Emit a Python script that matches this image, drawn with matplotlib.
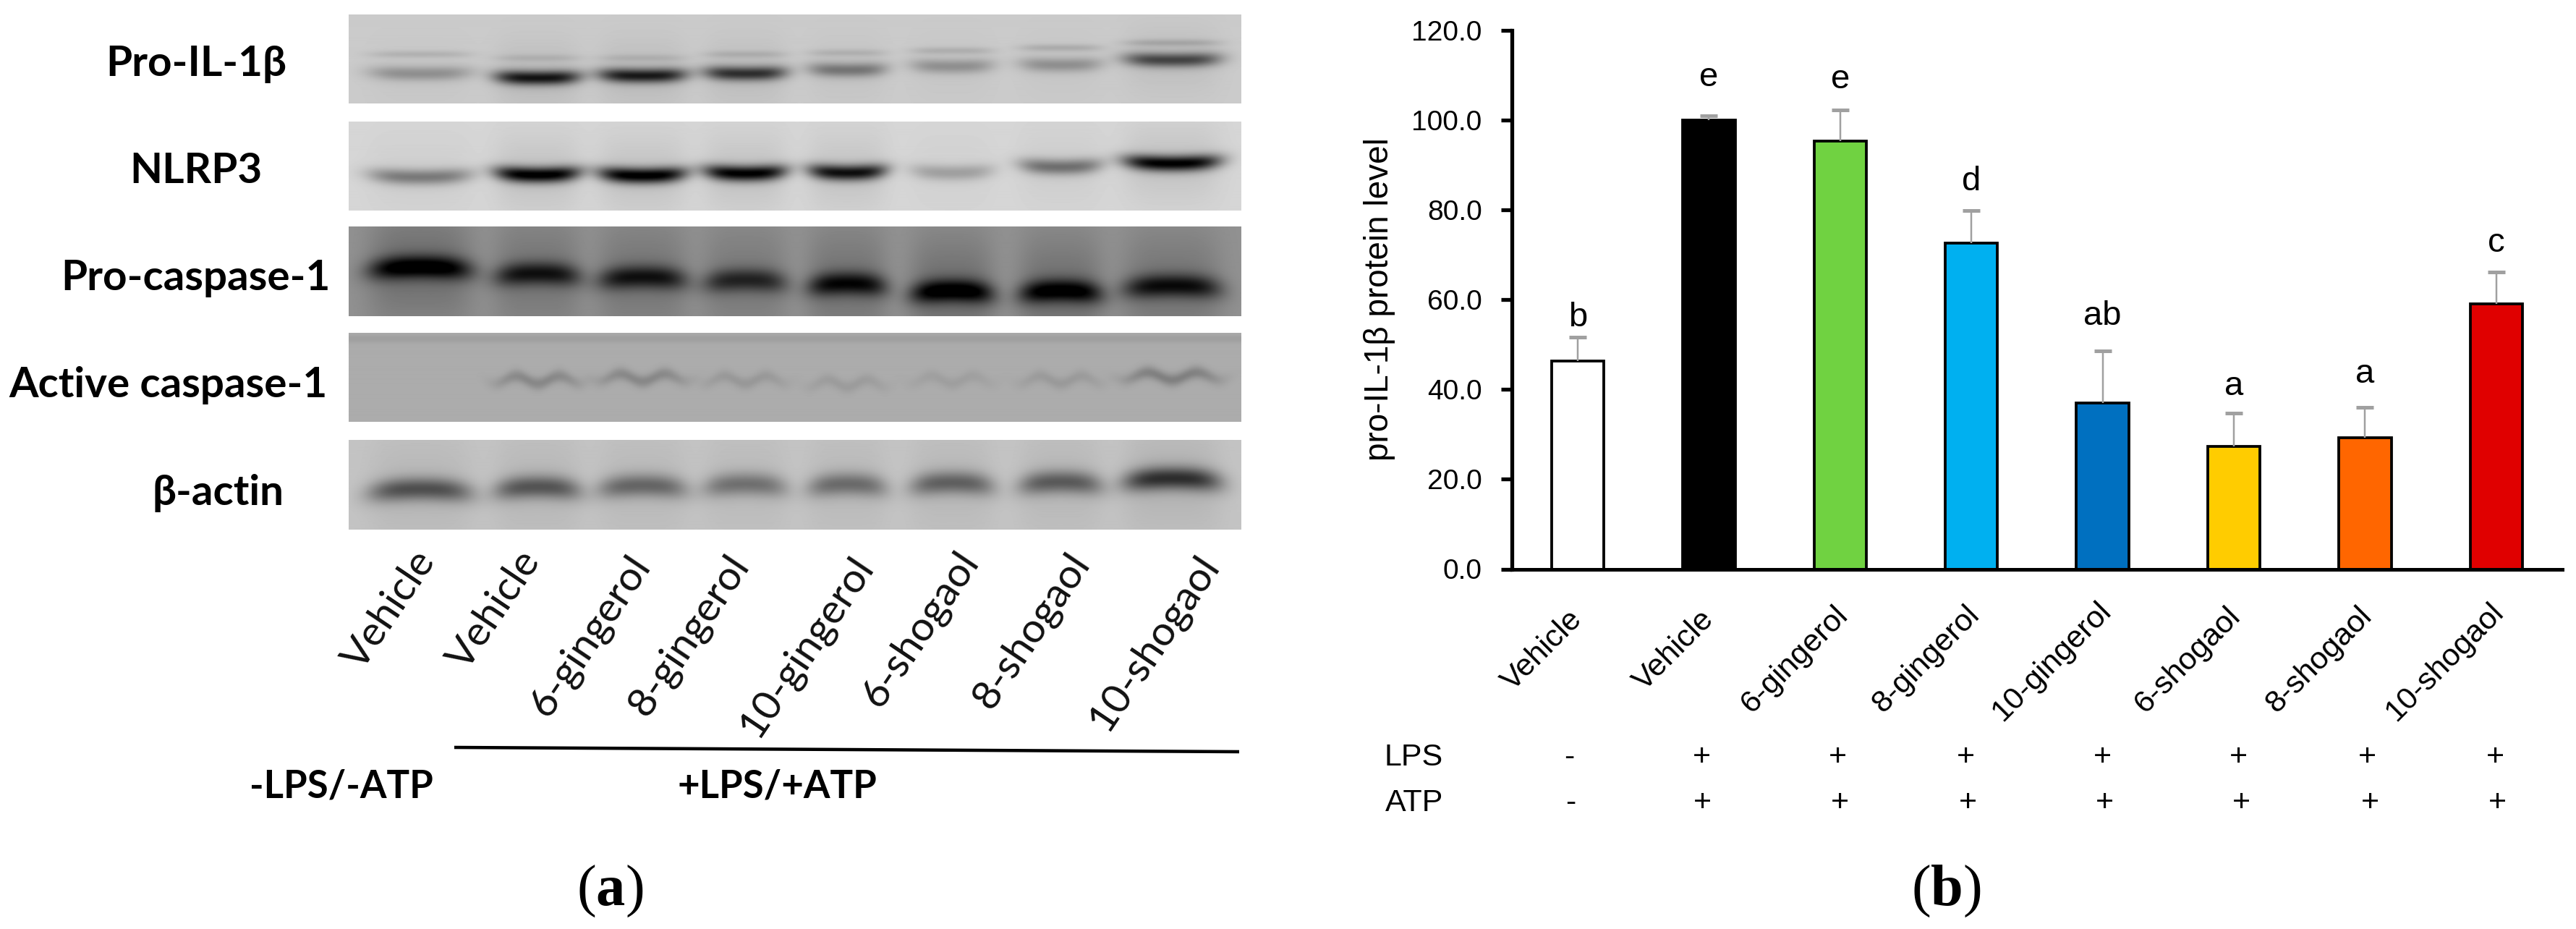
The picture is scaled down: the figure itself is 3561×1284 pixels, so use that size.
import numpy as np
import matplotlib
matplotlib.use("Agg")
import matplotlib.pyplot as plt

W, H = 3561, 1284

# bar chart values (panel b)
groups = ["Vehicle", "Vehicle", "6-gingerol", "8-gingerol", "10-gingerol", "6-shogaol", "8-shogaol", "10-shogaol"]
protein_level = [46.3, 100.0, 95.3, 72.6, 37.0, 27.3, 29.2, 59.0]
error_up = [5.3, 0.9, 6.9, 7.3, 11.5, 7.5, 6.8, 7.1]
letters = ["b", "e", "e", "d", "ab", "a", "a", "c"]
bar_colors = ["#FFFFFF", "#000000", "#70D241", "#00B0F0", "#0070C0", "#FFCC00", "#FF6600", "#E00000"]
lps = ["-", "+", "+", "+", "+", "+", "+", "+"]
atp = ["-", "+", "+", "+", "+", "+", "+", "+"]
yticks = [0, 20, 40, 60, 80, 100, 120]

# western blot bands (panel a), darkness of the band in each lane
blot_names = ["Pro-IL-1β", "NLRP3", "Pro-caspase-1", "Active caspase-1", "β-actin"]
il1_dark = [55, 170, 165, 145, 80, 55, 55, 125]
il1_upper = [22, 18, 18, 22, 22, 25, 28, 30]
nlrp3_dark = [85, 205, 205, 200, 185, 50, 95, 200]
procasp_dark = [135, 105, 105, 90, 115, 135, 130, 110]
active_dark = [0, 36, 36, 20, 16, 13, 18, 44]
actin_dark = [105, 100, 85, 75, 80, 90, 95, 135]


def lw(p):
    return p * 0.72


fig = plt.figure(figsize=(W / 100, H / 100), dpi=100)
ov = fig.add_axes([0, 0, 1, 1])
ov.axis("off")

# lane layout of the blots
lane_x = [581, 743, 888, 1030, 1171, 1316, 1466, 1620]
lane_w = [72, 60, 62, 58, 55, 58, 58, 68]
panels = [
    (20, 143, 203, [102, 108, 105, 102, 97, 92, 90, 83], il1_dark, 10, 0.09, -2, 0),
    (168, 291, 214, [245, 242, 243, 240, 239, 239, 231, 226], nlrp3_dark, 11, 0.09, -4, 0),
    (313, 437, 145, [369, 378, 383, 387, 392, 402, 402, 395], procasp_dark, 16, 0.25, 5, 0),
    (460, 583, 172, [0, 525, 522, 525, 530, 525, 525, 520], active_dark, 9, 0, 0, 5),
    (608, 732, 196, [676, 673, 671, 669, 669, 667, 666, 661], actin_dark, 16, 0.12, 6, 0),
]
upper_y = [75, 80, 80, 75, 73, 70, 66, 59]

xs = np.arange(482, 1716)
for n, (top, bot, bg, ys, dark, sig, smear, curve, wave) in enumerate(panels):
    yy = np.arange(top, bot + 1)
    gx, gy = np.meshgrid(xs, yy)
    img = np.full(gx.shape, float(bg))
    for i in range(8):
        rel = (gx - lane_x[i]) / lane_w[i]
        shape = np.exp(-rel ** 4)
        yc = ys[i] + curve * rel ** 2 + wave * np.cos(2 * np.pi * rel)
        img -= dark[i] * shape * np.exp(-((gy - yc) / sig) ** 2)
        # smear around the band, gives the lane columns
        img -= smear * dark[i] * shape * np.exp(-((gy - yc) / (sig * 5)) ** 2)
        if n == 0:
            img -= il1_upper[i] * shape * np.exp(-((gy - upper_y[i]) / 5) ** 2)
    if n == 3:
        img -= 12 * np.exp(-((gy - top - 8) / 6) ** 2)
    ov.imshow(np.clip(img, 0, 255), cmap="gray", vmin=0, vmax=255, aspect="auto",
              extent=(482, 1716, bot, top), interpolation="bilinear", zorder=1)

ov.set_xlim(0, W)
ov.set_ylim(H, 0)

# blot names
name_x = [271, 271, 270, 232, 301]
name_y = [105, 253, 401, 549, 698]
for i in range(5):
    ov.text(name_x[i], name_y[i], blot_names[i], ha="center", va="baseline", fontsize=42,
            family=["Lato", "Noto Sans", "DejaVu Sans"], fontweight="bold", color="black")

# rotated labels under the blots
left_x = [500, 645, 757, 894, 1047, 1216, 1370, 1530]
left_y = [929, 929, 993, 993, 1022, 980, 983, 1013]
for i in range(8):
    ov.text(left_x[i], left_y[i], groups[i], rotation=56, rotation_mode="anchor", ha="left", va="baseline",
            fontsize=41, family="Lato", color="#111111")

ov.plot([628, 1713], [1033, 1039], color="black", lw=lw(4.5), solid_capstyle="butt")
ov.text(472, 1087, "-LPS/-ATP", ha="center", va="center", fontsize=38, family="Lato", fontweight="bold", color="black")
ov.text(1074, 1087, "+LPS/+ATP", ha="center", va="center", fontsize=38, family="Lato", fontweight="bold", color="black")

# panel tags
plt.rcParams["mathtext.fontset"] = "custom"
plt.rcParams["mathtext.rm"] = "Liberation Serif"
plt.rcParams["mathtext.bf"] = "Liberation Serif:bold"
ov.text(843, 1231, r"$\mathrm{(}\mathbf{a}\mathrm{)}$", ha="center", va="center", fontsize=58)
ov.text(2690, 1231, r"$\mathrm{(}\mathbf{b}\mathrm{)}$", ha="center", va="center", fontsize=58)

# bar chart
ax_l, ax_r, ax_t, ax_b = 2090, 3542, 41.7, 786.5
ax = fig.add_axes([ax_l / W, 1 - ax_b / H, (ax_r - ax_l) / W, (ax_b - ax_t) / H])
ax.patch.set_alpha(0)
step = 181.4
first = 2181
ax.set_xlim((ax_l - first) / step, (ax_r - first) / step)
ax.set_ylim(0, 120)

pos = np.arange(8)
ax.bar(pos, protein_level, width=0.40, color=bar_colors, edgecolor="black", linewidth=lw(3.8), zorder=2)
eb = ax.errorbar(pos, protein_level, yerr=[np.zeros(8), error_up], fmt="none", ecolor="#A0A0A0",
                 elinewidth=lw(2.5), capsize=8.5, capthick=lw(5), zorder=3)
eb[1][0].set_visible(False)
eb[1][1].set_color("#666666")

letter_y = [54.1, 107.5, 107.0, 84.3, 54.3, 38.8, 41.5, 70.6]
for i in range(8):
    ax.text(pos[i], letter_y[i], letters[i], ha="center", va="baseline", fontsize=34, family="Liberation Sans")

for s in ["top", "right"]:
    ax.spines[s].set_visible(False)
ax.spines["left"].set_linewidth(lw(5.3))
ax.spines["bottom"].set_linewidth(lw(5))
ax.set_xticks([])
ax.set_yticks(yticks)
ax.set_yticklabels(["%.1f" % v for v in yticks], fontsize=28, family="Liberation Sans")
ax.tick_params(axis="y", length=lw(15), width=lw(5.3), pad=19)

ov.text(1919, 414, "pro-IL-1β protein level", rotation=90, rotation_mode="anchor", ha="center", va="baseline",
        fontsize=33, family="Liberation Sans")

right_x = [2091, 2273, 2422, 2603, 2768, 2966, 3147, 3312]
right_y = [956, 956, 987, 987, 998, 987, 987, 998]
for i in range(8):
    ov.text(right_x[i], right_y[i], groups[i], rotation=45, rotation_mode="anchor", ha="left", va="baseline",
            fontsize=31, family="Liberation Sans")

lps_x = [2169, 2352, 2540, 2717, 2906, 3094, 3272, 3449]
atp_x = [2171, 2353, 2543, 2720, 2909, 3098, 3276, 3452]
ov.text(1954, 1058, "LPS", ha="center", va="baseline", fontsize=31, family="Liberation Sans")
ov.text(1955, 1121, "ATP", ha="center", va="baseline", fontsize=31, family="Liberation Sans")
for i in range(8):
    ov.text(lps_x[i], 1058, lps[i], ha="center", va="baseline", fontsize=31, family="Liberation Sans")
    ov.text(atp_x[i], 1121, atp[i], ha="center", va="baseline", fontsize=31, family="Liberation Sans")

fig.savefig("out.png", dpi=100)
